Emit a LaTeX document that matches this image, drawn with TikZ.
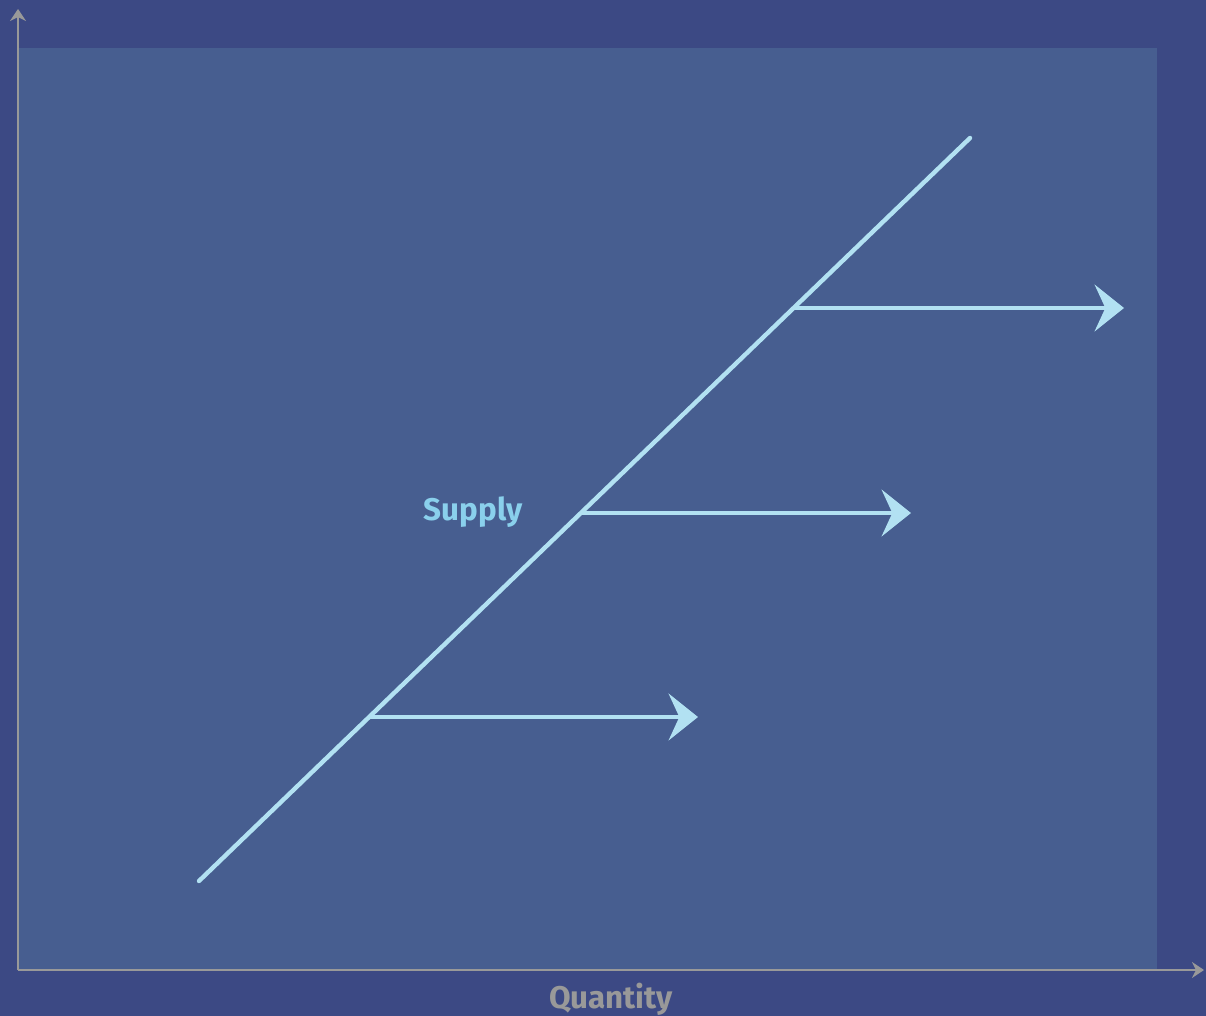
\documentclass[tikz,border=0pt]{standalone}
\usepackage{fontspec}
\setmainfont{Fira Sans}
\usetikzlibrary{arrows.meta}
\definecolor{outerbg}{RGB}{60,73,132}
\definecolor{innerbg}{RGB}{71,94,144}
\definecolor{supplyline}{RGB}{178,225,242}
\definecolor{supplytext}{RGB}{138,208,236}
\definecolor{axisgray}{RGB}{153,153,153}
\tikzset{
  axis/.style={draw=axisgray, line width=1.8pt, -{Stealth[length=9pt, width=12pt, inset=3pt]}},
  shift arrow/.style={draw=supplyline, line width=3.3pt, -{Stealth[length=22pt, width=35pt, inset=8pt]}},
  label text/.style={font=\bfseries\fontsize{23.5}{28}\selectfont}
}
\begin{document}
\begin{tikzpicture}[x=0.75pt, y=-0.75pt]
  \fill[outerbg] (0,0) rectangle (1206,1016);
  \useasboundingbox (0,0) rectangle (1206,1016);
  \fill[innerbg] (18,48) rectangle (1157,970);

  % axes
  \coordinate (origin) at (18,970);
  \coordinate (ytip) at (18,9);
  \coordinate (xtip) at (1204,970);
  \draw[axis] (origin) -- (ytip);
  \draw[axis] (origin) -- (xtip);
  \node (quantity) at (611,999) [axisgray, label text] {Quantity};

  % supply curve
  \coordinate (s0) at (199,881);
  \coordinate (s1) at (970,138);
  \draw[supplyline, line width=3.3pt, line cap=round] (s0) -- (s1);
  \node (supply) at (473,512) [supplytext, label text] {Supply};

  % shifts
  \coordinate (a1) at (369,717);
  \coordinate (b1) at (698,717);
  \coordinate (a2) at (581,513);
  \coordinate (b2) at (911,513);
  \coordinate (a3) at (794,308);
  \coordinate (b3) at (1124,308);
  \draw[shift arrow] (a1) -- (b1);
  \draw[shift arrow] (a2) -- (b2);
  \draw[shift arrow] (a3) -- (b3);
\end{tikzpicture}
\end{document}
